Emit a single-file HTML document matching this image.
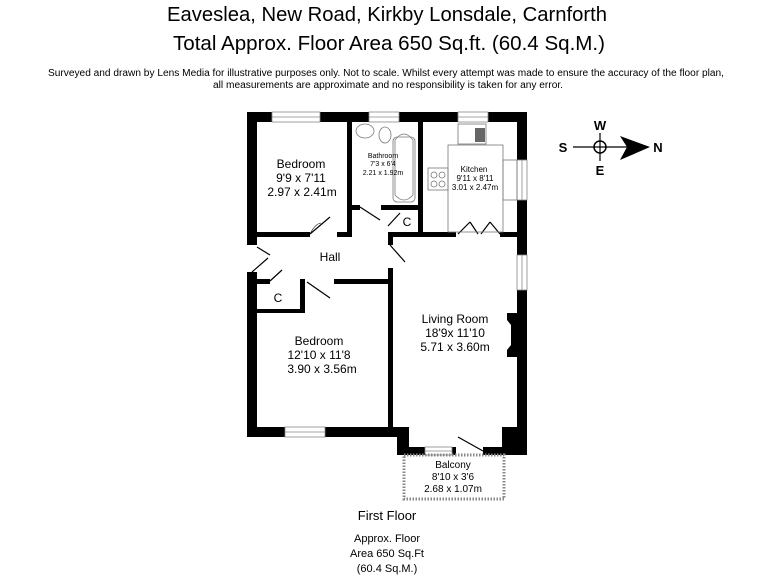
<!DOCTYPE html>
<html><head><meta charset="utf-8"><style>html,body{margin:0;padding:0;background:#fff}svg{display:block}</style></head><body>
<svg width="768" height="576" viewBox="0 0 768 576" xmlns="http://www.w3.org/2000/svg" font-family="Liberation Sans, sans-serif">
<rect width="768" height="576" fill="#fff"/>
<text x="387" y="21" font-size="20" text-anchor="middle" textLength="440" lengthAdjust="spacingAndGlyphs">Eaveslea, New Road, Kirkby Lonsdale, Carnforth</text>
<text x="389" y="50" font-size="20" text-anchor="middle" textLength="432" lengthAdjust="spacingAndGlyphs">Total Approx. Floor Area 650 Sq.ft. (60.4 Sq.M.)</text>
<text x="386" y="76" font-size="10" text-anchor="middle" textLength="676" lengthAdjust="spacingAndGlyphs">Surveyed and drawn by Lens Media for illustrative purposes only. Not to scale. Whilst every attempt was made to ensure the accuracy of the floor plan,</text>
<text x="388" y="88" font-size="10" text-anchor="middle" textLength="350" lengthAdjust="spacingAndGlyphs">all measurements are approximate and no responsibility is taken for any error.</text>

<g fill="#000">
<rect x="247" y="112" width="25" height="10"/>
<rect x="320" y="112" width="49" height="10"/>
<rect x="399" y="112" width="59" height="10"/>
<rect x="488" y="112" width="39" height="10"/>
<rect x="247" y="112" width="10" height="133"/>
<rect x="247" y="272" width="10" height="165"/>
<rect x="517" y="112" width="10" height="48"/>
<rect x="517" y="200" width="10" height="55"/>
<rect x="517" y="290" width="10" height="165"/>
<path d="M507 313 L517 313 L517 357 L507 357 L507 350 L511 345 L511 325 L507 320 Z"/>
<rect x="247" y="427" width="38" height="10"/>
<rect x="325" y="427" width="73" height="10"/>
<rect x="397" y="427" width="12" height="28"/>
<rect x="397" y="447" width="28" height="8"/>
<rect x="452" y="447" width="4" height="8"/>
<rect x="483" y="447" width="22" height="8"/>
<rect x="502" y="427" width="25" height="28"/>
<rect x="347" y="122" width="5" height="115"/>
<rect x="257" y="232" width="53" height="5"/>
<rect x="337" y="232" width="15" height="5"/>
<rect x="352" y="205" width="8" height="5"/>
<rect x="381" y="205" width="42" height="5"/>
<rect x="418" y="122" width="5" height="115"/>
<rect x="388" y="232" width="68" height="5"/>
<rect x="500" y="232" width="20" height="5"/>
<rect x="388" y="232" width="5" height="13"/>
<rect x="388" y="268" width="5" height="169"/>
<rect x="257" y="279" width="13" height="5"/>
<rect x="300" y="279" width="5" height="34"/>
<rect x="257" y="309" width="48" height="4"/>
<rect x="334" y="279" width="57" height="5"/>
</g>
<g fill="#fff" stroke="#888" stroke-width="0.8">
<rect x="272" y="112" width="48" height="10"/><line x1="272" y1="117" x2="320" y2="117"/>
<rect x="369" y="112" width="30" height="10"/><line x1="369" y1="117" x2="399" y2="117"/>
<rect x="458" y="112" width="30" height="10"/><line x1="458" y1="117" x2="488" y2="117"/>
<rect x="517" y="160" width="10" height="40"/><line x1="522" y1="160" x2="522" y2="200"/>
<rect x="517" y="255" width="10" height="35"/><line x1="522" y1="255" x2="522" y2="290"/>
<rect x="285" y="427" width="40" height="10"/><line x1="285" y1="432" x2="325" y2="432"/>
<rect x="425" y="447" width="27" height="8"/><line x1="425" y1="451" x2="452" y2="451"/>
</g>
<g fill="none" stroke="#000" stroke-width="1.2">
<line x1="310" y1="234" x2="330" y2="217"/><path d="M310 234 Q315 224 321 223" stroke-width="0.6"/>
<line x1="360" y1="207" x2="380" y2="220"/>
<line x1="388" y1="226" x2="400" y2="213"/>
<line x1="390" y1="245" x2="405" y2="262"/>
<line x1="257" y1="247" x2="270" y2="255"/><line x1="252" y1="272" x2="268" y2="258"/>
<line x1="270" y1="281" x2="282" y2="270"/>
<line x1="307" y1="282" x2="330" y2="298"/>
<line x1="458" y1="234" x2="470" y2="222"/><line x1="478" y1="234" x2="470" y2="222"/>
<line x1="481" y1="234" x2="490" y2="222"/><line x1="500" y1="234" x2="490" y2="222"/>
<line x1="458" y1="437" x2="483" y2="451"/>
</g>
<g fill="none" stroke="#777" stroke-width="0.8">
<rect x="393" y="137" width="22" height="65" rx="4"/>
<path d="M395 140 Q404 128 413 140 L413 195 Q404 205 395 195 Z"/>
<ellipse cx="365" cy="131" rx="9" ry="7"/>
<ellipse cx="385" cy="135" rx="6" ry="8"/>
<rect x="448" y="145" width="55" height="87"/>
<rect x="503" y="160" width="14" height="40"/>
<rect x="428" y="168" width="20" height="22"/>
<circle cx="434" cy="175" r="3"/><circle cx="442" cy="175" r="3"/><circle cx="434" cy="184" r="3"/><circle cx="442" cy="184" r="3"/>
<rect x="458" y="124" width="28" height="20"/>
</g>
<rect x="475" y="128" width="10" height="14" fill="#666"/>
<rect x="404" y="455" width="100" height="44" fill="none" stroke="#888" stroke-width="3" stroke-dasharray="1.5 1.5"/>
<g text-anchor="middle" fill="#000">
<text x="301" y="168" font-size="12">Bedroom</text>
<text x="301" y="182" font-size="12">9'9 x 7'11</text>
<text x="302" y="196" font-size="12">2.97 x 2.41m</text>
<text x="383" y="158" font-size="7">Bathroom</text>
<text x="383" y="166" font-size="7">7'3 x 6'4</text>
<text x="383" y="175" font-size="7">2.21 x 1.92m</text>
<text x="474" y="172" font-size="8">Kitchen</text>
<text x="475" y="181" font-size="8">9'11 x 8'11</text>
<text x="475" y="190" font-size="8">3.01 x 2.47m</text>
<text x="407" y="226" font-size="12">C</text>
<text x="330" y="261" font-size="12">Hall</text>
<text x="278" y="302" font-size="12">C</text>
<text x="455" y="323" font-size="12">Living Room</text>
<text x="455" y="337" font-size="12">18'9x 11'10</text>
<text x="455" y="351" font-size="12">5.71 x 3.60m</text>
<text x="319" y="345" font-size="12">Bedroom</text>
<text x="319" y="359" font-size="12">12'10 x 11'8</text>
<text x="322" y="373" font-size="12">3.90 x 3.56m</text>
<text x="453" y="468" font-size="10">Balcony</text>
<text x="453" y="480" font-size="10">8'10 x 3'6</text>
<text x="453" y="492" font-size="10">2.68 x 1.07m</text>
<text x="387" y="520" font-size="13">First Floor</text>
<text x="387" y="542" font-size="11">Approx. Floor</text>
<text x="387" y="557" font-size="11">Area 650 Sq.Ft</text>
<text x="387" y="572" font-size="11">(60.4 Sq.M.)</text>
</g>
<g>
<line x1="573" y1="147" x2="630" y2="147" stroke="#000" stroke-width="1.2"/>
<line x1="600" y1="133" x2="600" y2="161" stroke="#000" stroke-width="1.2"/>
<circle cx="600" cy="147" r="6" fill="none" stroke="#000" stroke-width="1.5"/>
<path d="M620 136 L650 147 L620 160 L627 147 Z" fill="#000"/>
<g font-size="13" font-weight="bold" text-anchor="middle">
<text x="563" y="152">S</text><text x="600" y="130">W</text><text x="600" y="175">E</text><text x="658" y="152">N</text>
</g>
</g>
</svg>
</body></html>
